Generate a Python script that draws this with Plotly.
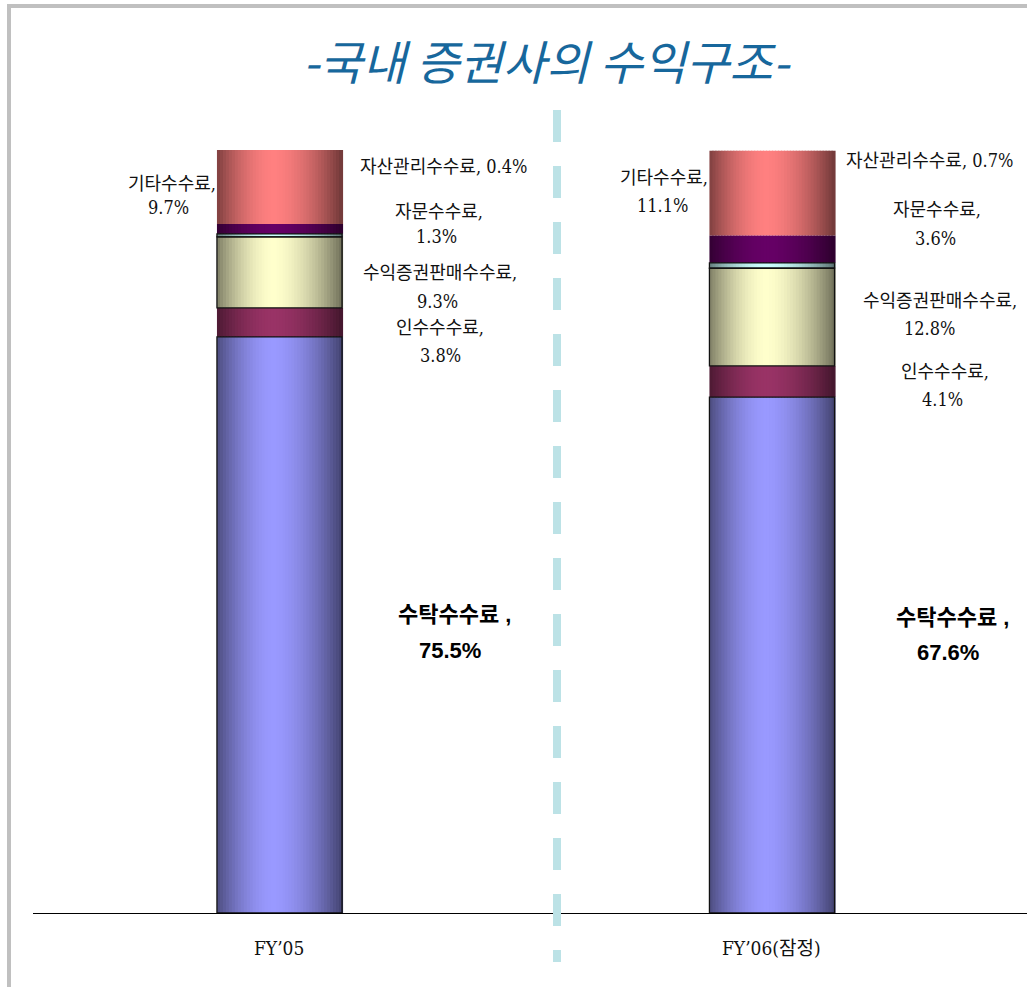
import math
import plotly.graph_objects as go

# ---- data -------------------------------------------------------------
categories = ["FY’05", "FY’06(잠정)"]
segments = ["수탁수수료", "인수수수료", "수익증권판매수수료", "자산관리수수료", "자문수수료", "기타수수료"]
fy05 = [75.5, 3.8, 9.3, 0.4, 1.3, 9.7]
fy06 = [67.6, 4.1, 12.8, 0.7, 3.6, 11.1]
seg_colors = ["#9999FF", "#993366", "#FFFFCC", "#CCFFFF", "#660066", "#FF8080"]
outlined = ["수탁수수료", "수익증권판매수수료", "자산관리수수료"]
title_text = "-국내 증권사의 수익구조-"

series = [fy05, fy06]

# ---- page geometry ------------------------------------------------------
W, H = 1027, 987
ML, MR, MT, MB = 33, 0, 80, 74
PW, PH = W - ML - MR, H - MT - MB
X_RANGE = [-0.5005, 1.5178]
Y_RANGE = [0, 109.17]
BAR_W = 0.254
N_STRIPS = 42


def px(x):
    return (x - ML) / PW


def py(y):
    return (H - MB - y) / PH


def hex_rgb(h):
    h = h.lstrip("#")
    return [int(h[i:i + 2], 16) for i in (0, 2, 4)]


def shade(hex_color, t):
    """Cylinder-like lighting across the bar: dark edges, bright near 45%."""
    peak, lo_left, lo_right = 0.45, 0.50, 0.44
    if t < peak:
        d, lo = (peak - t) / peak, lo_left
    else:
        d, lo = (t - peak) / (1 - peak), lo_right
    f = 1 - (1 - lo) * d ** 1.7
    r, g, b = hex_rgb(hex_color)
    return f"rgb({round(r * f)},{round(g * f)},{round(b * f)})"


# stacked bases for every category
bases = []
for vals in series:
    acc, b = 0.0, []
    for v in vals:
        b.append(acc)
        acc += v
    bases.append(b)

fig = go.Figure()

# shaded stacked columns, drawn as thin vertical strips
step = BAR_W / N_STRIPS
for i in range(N_STRIPS):
    t = (i + 0.5) / N_STRIPS
    xs, ys, bs, cs = [], [], [], []
    for ci, vals in enumerate(series):
        for si, v in enumerate(vals):
            xs.append(ci)
            ys.append(v)
            bs.append(bases[ci][si])
            cs.append(shade(seg_colors[si], t))
    fig.add_trace(go.Bar(
        x=xs, y=ys, base=bs,
        width=step * 1.35,
        offset=-BAR_W / 2 + i * step,
        marker=dict(color=cs, line=dict(width=0)),
        hoverinfo="skip", showlegend=False,
    ))

# outlines around selected segments
for si, name in enumerate(segments):
    if name not in outlined:
        continue
    fig.add_trace(go.Bar(
        x=list(range(len(categories))),
        y=[vals[si] for vals in series],
        base=[bases[ci][si] for ci in range(len(series))],
        width=BAR_W, offset=-BAR_W / 2,
        marker=dict(color="rgba(0,0,0,0)", line=dict(color="#111111", width=1.3)),
        hoverinfo="skip", showlegend=False,
    ))

# ---- labels -------------------------------------------------------------
SERIF = "DejaVu Serif Condensed, Liberation Serif, Noto Sans CJK KR"
small_font = dict(family=SERIF, size=18, color="#111111")
big_font = dict(family="Liberation Sans Narrow, Liberation Sans, Noto Sans CJK KR",
                size=22, color="#000000")

# (category, segment index, style, [(x, y) per line])
label_layout = [
    (0, 5, "two", [(172, 183), (168, 208)]),
    (0, 3, "one", [(443, 166)]),
    (0, 4, "two", [(439, 211), (436, 237)]),
    (0, 2, "two", [(440, 272), (437, 301)]),
    (0, 1, "two", [(440, 327), (440, 355)]),
    (0, 0, "big", [(454, 614), (450, 650)]),
    (1, 5, "two", [(664, 177), (662, 205)]),
    (1, 3, "one", [(929, 160)]),
    (1, 4, "two", [(937, 209), (935, 238)]),
    (1, 2, "two", [(940, 300), (929, 328)]),
    (1, 1, "two", [(945, 371), (942, 399)]),
    (1, 0, "big", [(952, 617), (948, 652)]),
]

annotations = []
for ci, si, style, pos in label_layout:
    name = segments[si]
    val = series[ci][si]
    if style == "one":
        lines = [f"{name}, {val:.1f}%"]
        font = small_font
    elif style == "two":
        lines = [f"{name},", f"{val:.1f}%"]
        font = small_font
    else:
        lines = [f"<b>{name} ,</b>", f"<b>{val:.1f}%</b>"]
        font = big_font
    for text, (x, y) in zip(lines, pos):
        annotations.append(dict(
            text=text, x=px(x), y=py(y), xref="paper", yref="paper",
            xanchor="center", yanchor="middle", showarrow=False, font=font,
        ))

# category names under the axis
for ci, cat in enumerate(categories):
    annotations.append(dict(
        text=cat, x=ci, y=py(948), xref="x", yref="paper",
        xanchor="center", yanchor="middle", showarrow=False,
        font=dict(family=SERIF, size=19, color="#111111"),
    ))

# title
annotations.append(dict(
    text=f"<i>{title_text}</i>", x=px(547), y=py(60), xref="paper", yref="paper",
    xanchor="center", yanchor="middle", showarrow=False,
    font=dict(family="Noto Sans CJK KR", size=47, color="#17679C"),
))

shapes = [
    # frame at the left and top
    dict(type="rect", xref="paper", yref="paper", x0=px(7), x1=px(11), y0=py(987), y1=py(4),
         fillcolor="#C0C0C0", line=dict(width=0), layer="below"),
    dict(type="rect", xref="paper", yref="paper", x0=px(7), x1=px(1027), y0=py(8), y1=py(4),
         fillcolor="#C0C0C0", line=dict(width=0), layer="below"),
    # dashed divider between the two years
    dict(type="line", xref="paper", yref="paper", x0=px(557), x1=px(557), y0=py(110), y1=py(962),
         line=dict(color="#BCE2E6", width=8, dash="32px,24px"), layer="above"),
]

fig.update_layout(
    width=W, height=H,
    margin=dict(l=ML, r=MR, t=MT, b=MB),
    paper_bgcolor="white", plot_bgcolor="white",
    barmode="overlay",
    showlegend=False,
    xaxis=dict(range=X_RANGE, showgrid=False, zeroline=False, showticklabels=False,
               ticks="", showline=True, linecolor="#000000", linewidth=1, fixedrange=True),
    yaxis=dict(range=Y_RANGE, visible=False, fixedrange=True),
    annotations=annotations,
    shapes=shapes,
)

fig.write_html("out.html", config={"displayModeBar": False})
